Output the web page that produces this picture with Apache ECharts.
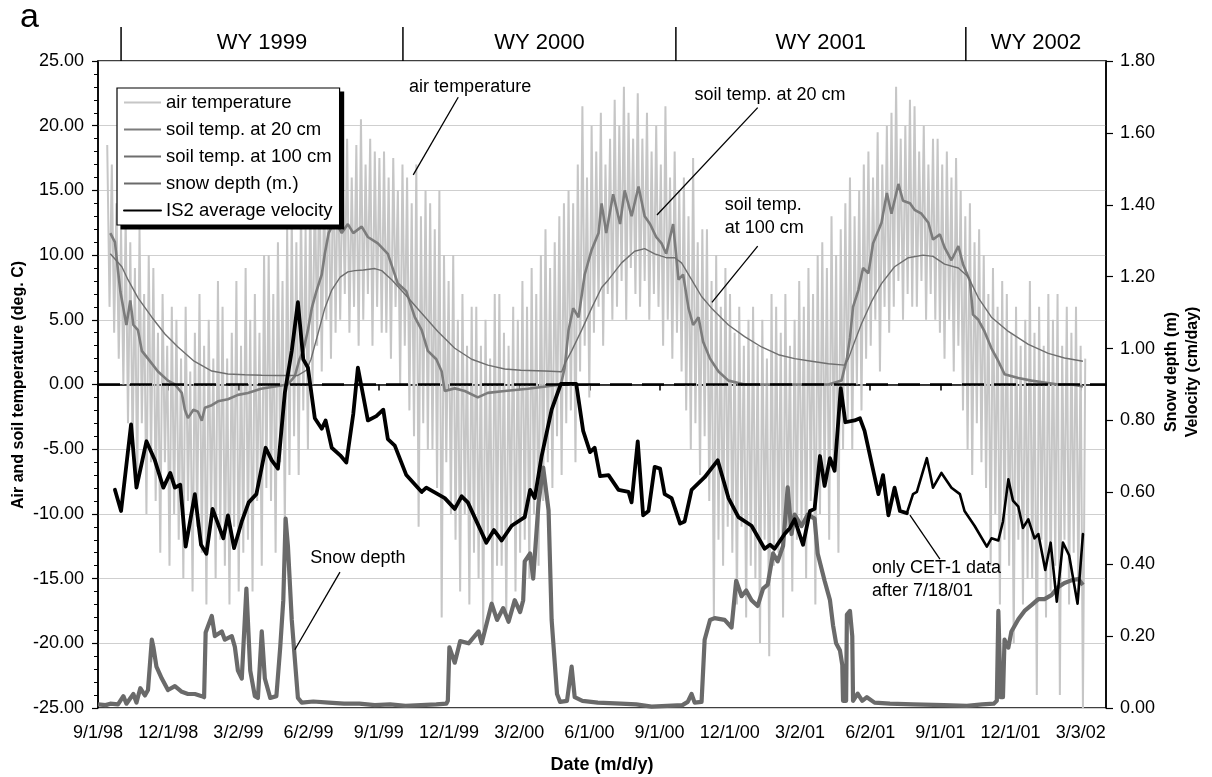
<!DOCTYPE html>
<html>
<head>
<meta charset="utf-8">
<script src="https://cdn.jsdelivr.net/npm/echarts@6/dist/echarts.min.js"></script>
<style>
html, body { margin: 0; padding: 0; background: #fff; }
#chart { width: 1212px; height: 777px; }
</style>
</head>
<body>
<div id="chart"></div>
<script>
// All x values are days counted from 1 Sep 1998 (day 0).
const xTickStep = 91.3;
const xTickLabels = ['9/1/98', '12/1/98', '3/2/99', '6/2/99', '9/1/99', '12/1/99', '3/2/00',
  '6/1/00', '9/1/00', '12/1/00', '3/2/01', '6/2/01', '9/1/01', '12/1/01', '3/3/02'];

// Water-year boundaries (day) and their labels
const wyBounds = [30, 396.6, 751.6, 1128.7];
const wyLabels = ['WY 1999', 'WY 2000', 'WY 2001', 'WY 2002'];

// Air temperature (deg C), sampled every 3 days from day 12
const airStartDay = 12;
const airStepDays = 3;
const airTemp = [
  18.5, 6, 17, 4, 14, 2, 12, 0, 13, -3,
  11, -5, 9, -8, 12, -3, 7, -10, 10, -6,
  9, -9, 4, -13, 7, -6, 3, -14, 6, -10,
  5, -12, 2, -15, 6, -9, 1, -16, 4, -11,
  7, -13, 3, -17, 5, -10, 2, -15, 8, -12,
  6, -14, 2, -17, 4, -11, 8, -16, 3, -13,
  9, -12, 5, -16, 7, -9, 4, -14, 10, -8,
  10, -9, 7, -13, 11, -6, 8, -11, 12, -7,
  13, -4, 11, -7, 14, -2, 12, -5, 15, 0,
  16, 3, 18, 1, 15, 5, 17, 2, 19, 4,
  18, 5, 17, 7, 19, 4, 16, 6, 18.5, 3,
  20.5, 5, 17, 7, 19, 3, 18, 6, 17.5, 4,
  18, 4, 16, 2, 17.5, 6, 15, 0, 17, 3,
  16, -2, 14, -4, 17, -11, 13, -3, 15, -5,
  14, -5, 12, -8, 15, -18, 10, -6, 8, -10,
  10, -12, 5, -16, 7, -10, 3, -17, 6, -13,
  6, -15, 3, -19, 5, -12, 2, -17, 7, -14,
  7, -14, 4, -18, 3, -11, 6, -16, 5, -13,
  8, -12, 6, -15, 9, -10, 7, -14, 10, -9,
  12, -6, 9, -8, 11, -4, 13, -7, 14, -3,
  15, -2, 14, -6, 17, 1, 21.5, 3, 16, -1,
  20, 4, 18, 6, 21, 3, 17, 7, 19, 5,
  22, 6, 20, 8, 23, 5, 21, 9, 19, 7,
  22.5, 6, 19, 8, 21, 5, 18, 7, 20, 6,
  17, 3, 21.5, 5, 16, 2, 18, 4, 15, 1,
  16, -2, 13, -5, 17.5, -3, 11, -7, 12, -4,
  12, -9, 8, -18, 10, -12, 6, -14, 9, -11,
  7, -13, 4, -17, 6, -11, 3, -18, 5, -14,
  6, -15, 3, -20, 5, -12, 2, -21, 7, -14,
  6, -13, 4, -18, 7, -11, 3, -16, 5, -12,
  8, -11, 6, -15, 9, -9, 7, -17, 10, -10,
  11, -8, 9, -12, 13, -6, 10, -13, 12, -5,
  14, -3, 16, -5, 13, 0, 15, -2, 17, 2,
  18, 3, 16, 5, 19.5, 1, 17, 6, 20, 4,
  21, 6, 23, 8, 19, 5, 20, 7, 22, 6,
  21.5, 6, 18, 8, 20, 5, 17, 7, 19, 5,
  19, 4, 17, 2, 18, 5, 16, 1, 17.5, 3,
  15, -2, 13, -5, 14, -7, 11, -3, 12, -6,
  10, -8, 7, -14, 9, -10, 6, -17, 8, -12,
  7, -14, 4, -20, 6, -12, 3, -17, 5, -15,
  8, -15, 4, -24, 6, -12, 3, -18, 7, -16,
  5, -14, 7, -24, 3, -12, 6, -17, 4, -13,
  6, -16, 3, -25, 2
];

// Soil temperature at 20 cm: [day, deg C]
const soil20 = [
  [16, 11.7], [22, 11.0], [29, 7.2], [33, 5.9], [37, 4.6], [42, 6.5], [46, 4.6], [52, 4.2],
  [57, 2.6], [65, 2.0], [78, 1.0], [91, 0.3], [100, 0], [109, -0.65], [113, -1.95], [117, -2.6],
  [124, -1.95], [130, -2.1], [135, -2.8], [139, -1.8], [148, -1.6], [156, -1.3], [169, -1.14],
  [182, -0.8], [195, -0.65], [212, -0.33], [230, -0.16], [247, 0], [256, 0.65], [262, 1.95],
  [267, 2.6], [273, 4.2], [278, 5.9], [284, 7.2], [291, 8.5], [295, 10.1], [300, 11.7],
  [308, 12.7], [317, 11.7], [325, 12.4], [332, 11.7], [343, 12.2], [351, 11.4], [364, 10.9],
  [377, 10.1], [390, 7.8], [401, 7.2], [412, 5.2], [421, 4.2], [429, 2.6], [440, 1.95],
  [447, 1.0], [451, -0.5], [464, -0.3], [477, -0.5], [494, -1.0], [507, -0.65], [529, -0.5],
  [559, -0.33], [590, -0.1], [602, 0], [607, 1.3], [612, 4.2], [618, 5.9], [625, 5.2],
  [633, 8.5], [642, 10.4], [651, 11.7], [655, 14.0], [661, 11.7], [670, 14.7], [679, 12.4],
  [685, 15.0], [694, 13.0], [703, 15.3], [711, 13.0], [718, 12.4], [726, 11.4], [733, 10.9],
  [739, 10.1], [748, 12.4], [755, 8.1], [761, 8.5], [768, 5.9], [774, 4.6], [781, 5.2],
  [787, 3.3], [796, 2.0], [807, 1.0], [820, 0.3], [841, 0], [863, 0], [906, 0], [950, 0],
  [967, 0.3], [974, 2.0], [978, 3.6], [982, 6.0], [989, 7.3], [995, 9.0], [1002, 8.6],
  [1008, 10.9], [1015, 11.9], [1019, 12.5], [1026, 14.8], [1032, 13.2], [1041, 15.5],
  [1047, 14.2], [1056, 14.0], [1062, 13.5], [1071, 13.2], [1080, 12.5], [1086, 11.2],
  [1095, 11.6], [1101, 10.6], [1110, 9.6], [1119, 10.7], [1125, 9.3], [1134, 8.0],
  [1138, 5.4], [1145, 5.0], [1153, 4.1], [1162, 2.8], [1171, 1.8], [1179, 0.8], [1197, 0.5],
  [1214, 0.3], [1231, 0.16], [1249, 0], [1266, 0], [1281, -0.16]
];

// Soil temperature at 100 cm: [day, deg C]
const soil100 = [
  [16, 10.1], [31, 9.1], [39, 8.1], [52, 6.7], [70, 5.2], [87, 3.9], [104, 2.9], [125, 1.8],
  [148, 1.04], [169, 0.81], [191, 0.75], [213, 0.72], [234, 0.70], [260, 0.70], [271, 1.1],
  [277, 1.95], [286, 3.9], [295, 5.9], [304, 7.3], [315, 8.3], [325, 8.7], [334, 8.8],
  [345, 8.85], [360, 8.96], [369, 8.8], [382, 8.1], [399, 7.0], [421, 5.5], [442, 4.1],
  [464, 2.8], [486, 1.95], [507, 1.5], [529, 1.2], [550, 1.1], [581, 1.04], [603, 0.98],
  [607, 1.6], [616, 2.6], [629, 4.2], [642, 5.9], [655, 7.5], [664, 8.1], [681, 9.4],
  [698, 10.3], [711, 10.5], [724, 10.1], [739, 9.8], [750, 9.8], [759, 9.4], [772, 8.1],
  [785, 6.8], [798, 5.9], [820, 4.6], [841, 3.7], [863, 2.9], [885, 2.3], [906, 2.0],
  [928, 1.8], [950, 1.6], [971, 1.5], [976, 2.0], [984, 3.3], [993, 4.7], [1006, 6.4],
  [1019, 7.8], [1036, 9.1], [1054, 9.8], [1073, 10.0], [1086, 9.9], [1101, 9.3], [1119, 9.0],
  [1132, 8.3], [1145, 6.7], [1162, 5.2], [1184, 4.1], [1210, 3.1], [1236, 2.4], [1257, 2.05],
  [1281, 1.8]
];

// Snow depth (m): [day, m]
const snowDepth = [
  [0, 0.01], [10, 0.008], [16, 0.012], [26, 0.01], [33, 0.033], [37, 0.012], [46, 0.039],
  [50, 0.015], [55, 0.055], [61, 0.035], [65, 0.05], [70, 0.19], [72, 0.17], [76, 0.115],
  [83, 0.082], [91, 0.05], [100, 0.061], [109, 0.045], [117, 0.039], [126, 0.039], [135, 0.033],
  [138, 0.03], [140, 0.21], [148, 0.256], [152, 0.20], [161, 0.213], [165, 0.19], [174, 0.20],
  [178, 0.17], [182, 0.104], [187, 0.082], [193, 0.332], [198, 0.104], [204, 0.033], [208, 0.028],
  [213, 0.213], [217, 0.082], [224, 0.028], [232, 0.033], [237, 0.169], [241, 0.30], [244, 0.527],
  [247, 0.451], [252, 0.245], [256, 0.136], [260, 0.028], [265, 0.015], [280, 0.018], [300, 0.015],
  [320, 0.012], [340, 0.012], [360, 0.008], [380, 0.01], [400, 0.006], [420, 0.008], [440, 0.01],
  [453, 0.012], [455, 0.02], [457, 0.169], [464, 0.126], [471, 0.186], [482, 0.18], [495, 0.213],
  [499, 0.18], [512, 0.29], [519, 0.245], [527, 0.278], [534, 0.24], [542, 0.30], [549, 0.267],
  [553, 0.30], [555, 0.408], [562, 0.43], [566, 0.36], [573, 0.571], [579, 0.669], [586, 0.55],
  [590, 0.245], [597, 0.039], [601, 0.017], [610, 0.02], [616, 0.115], [620, 0.03], [630, 0.02],
  [650, 0.015], [680, 0.012], [700, 0.01], [720, 0.004], [740, 0.006], [760, 0.008], [767, 0.017],
  [772, 0.039], [776, 0.015], [785, 0.017], [789, 0.19], [796, 0.245], [802, 0.25], [815, 0.245],
  [824, 0.224], [830, 0.354], [837, 0.311], [843, 0.327], [850, 0.30], [858, 0.284], [865, 0.332],
  [871, 0.343], [878, 0.43], [884, 0.408], [891, 0.451], [897, 0.614], [902, 0.484], [906, 0.538],
  [915, 0.506], [923, 0.538], [932, 0.527], [936, 0.43], [945, 0.354], [952, 0.30], [956, 0.23],
  [960, 0.18], [965, 0.16], [968, 0.12], [969, 0.02], [973, 0.02], [974, 0.26], [978, 0.27],
  [981, 0.2], [982, 0.02], [988, 0.04], [994, 0.02], [1000, 0.03], [1010, 0.015], [1030, 0.012],
  [1060, 0.01], [1100, 0.008], [1130, 0.006], [1150, 0.01], [1165, 0.012], [1169, 0.02],
  [1171, 0.27], [1174, 0.03], [1177, 0.03], [1179, 0.19], [1184, 0.168], [1188, 0.213],
  [1197, 0.247], [1205, 0.27], [1214, 0.286], [1223, 0.303], [1231, 0.303], [1240, 0.314],
  [1249, 0.337], [1257, 0.348], [1266, 0.355], [1275, 0.359], [1281, 0.342]
];

// IS2 average velocity (cm/day): [day, cm/day]
const velocity = [
  [22, 0.607], [30, 0.548], [43, 0.789], [50, 0.613], [63, 0.742], [74, 0.689], [85, 0.613],
  [94, 0.654], [100, 0.613], [107, 0.621], [114, 0.449], [126, 0.595], [134, 0.454], [141, 0.429],
  [149, 0.554], [163, 0.472], [169, 0.536], [177, 0.445], [187, 0.519], [196, 0.572], [206, 0.595],
  [218, 0.724], [226, 0.689], [234, 0.666], [243, 0.877], [252, 0.994], [260, 1.129], [267, 0.970],
  [273, 0.947], [282, 0.806], [291, 0.777], [296, 0.800], [304, 0.724], [315, 0.703], [323, 0.683],
  [332, 0.818], [338, 0.947], [351, 0.800], [362, 0.812], [371, 0.830], [377, 0.748], [386, 0.730],
  [401, 0.648], [421, 0.601], [427, 0.613], [451, 0.584], [464, 0.554], [473, 0.589], [481, 0.572],
  [505, 0.460], [515, 0.495], [525, 0.466], [538, 0.507], [555, 0.531], [562, 0.607], [568, 0.584],
  [577, 0.701], [590, 0.830], [602, 0.902], [622, 0.902], [631, 0.771], [640, 0.712], [646, 0.724],
  [653, 0.645], [664, 0.648], [677, 0.607], [690, 0.601], [694, 0.572], [702, 0.742], [709, 0.536],
  [716, 0.548], [724, 0.671], [731, 0.666], [737, 0.595], [746, 0.584], [757, 0.513], [763, 0.519],
  [772, 0.607], [789, 0.642], [806, 0.689], [820, 0.584], [833, 0.531], [850, 0.507], [867, 0.443],
  [874, 0.454], [880, 0.443], [893, 0.484], [900, 0.501], [906, 0.525], [917, 0.454], [926, 0.548],
  [932, 0.554], [939, 0.701], [945, 0.618], [952, 0.695], [958, 0.660], [966, 0.890], [972, 0.795],
  [984, 0.800], [991, 0.806], [997, 0.771], [1015, 0.595], [1021, 0.648], [1028, 0.536],
  [1036, 0.613], [1043, 0.548], [1052, 0.542], [1060, 0.595], [1065, 0.601], [1078, 0.695],
  [1086, 0.613], [1097, 0.654], [1110, 0.613], [1121, 0.595], [1127, 0.548], [1140, 0.507],
  [1156, 0.449], [1162, 0.472], [1171, 0.466], [1177, 0.519], [1184, 0.636], [1190, 0.577],
  [1197, 0.560], [1203, 0.501], [1210, 0.525], [1218, 0.472], [1223, 0.484], [1232, 0.384],
  [1239, 0.460], [1247, 0.296], [1255, 0.460], [1263, 0.425], [1274, 0.290], [1281, 0.484]
];
// From 7/18/01 on only the CET-1 record is averaged
const cet1OnlyFromDay = 1052;

const FONT = '"Liberation Sans", Arial, Helvetica, sans-serif';
const xMax = 1311;

const airData = airTemp.map((t, i) => [airStartDay + i * airStepDays, t]);
const velEarly = velocity.filter(p => p[0] <= cet1OnlyFromDay);
const velLate = velocity.filter(p => p[0] >= cet1OnlyFromDay);

const chart = echarts.init(document.getElementById('chart'));

const axisLineStyle = { color: '#000', width: 1.5 };
const labelStyle = { fontSize: 18, color: '#000', fontFamily: FONT };

chart.setOption({
  animation: false,
  backgroundColor: '#fff',
  textStyle: { fontFamily: FONT },
  grid: { left: 98, right: 106, top: 61, bottom: 69, show: true, borderColor: '#000', borderWidth: 1.5 },
  legend: {
    orient: 'vertical',
    left: 117, top: 88,
    z: 20,
    selectedMode: false,
    data: ['air temperature', 'soil temp. at 20 cm', 'soil temp. at 100 cm', 'snow depth (m.)', 'IS2 average velocity'],
    backgroundColor: '#fff',
    borderColor: '#000',
    borderWidth: 1.2,
    padding: [5, 7, 5, 6],
    itemGap: 8,
    itemWidth: 37,
    itemHeight: 14,
    itemStyle: { opacity: 0 },
    textStyle: { fontSize: 18.5, color: '#000', fontFamily: FONT }
  },
  xAxis: {
    type: 'value', min: 0, max: xMax, interval: xTickStep,
    axisLine: { show: true, lineStyle: axisLineStyle },
    axisTick: { show: true, length: 6, lineStyle: { color: '#000', width: 1.5 } },
    axisLabel: Object.assign({
      margin: 16,
      showMaxLabel: false,
      formatter: function (v) {
        const k = Math.round(v / xTickStep);
        if (Math.abs(v - k * xTickStep) > 0.01) return '';
        return xTickLabels[k] || '';
      }
    }, labelStyle),
    splitLine: { show: false }
  },
  yAxis: [
    {
      type: 'value', min: -25, max: 25, interval: 5, position: 'left',
      axisLine: { show: true, lineStyle: axisLineStyle },
      axisTick: { show: true, length: 6, lineStyle: { color: '#000', width: 1.2 } },
      minorTick: { show: true, splitNumber: 5, length: 4, lineStyle: { color: '#000', width: 1 } },
      axisLabel: Object.assign({ margin: 14, formatter: v => v.toFixed(2) }, labelStyle),
      splitLine: { show: true, lineStyle: { color: '#cfcfcf', width: 1 } }
    },
    {
      type: 'value', min: 0, max: 1.8, interval: 0.2, position: 'right',
      axisLine: { show: true, lineStyle: axisLineStyle },
      axisTick: { show: true, length: 7, lineStyle: { color: '#000', width: 1.2 } },
      axisLabel: Object.assign({ margin: 14, formatter: v => v.toFixed(2) }, labelStyle),
      splitLine: { show: false }
    }
  ],
  series: [
    {
      name: 'air temperature', type: 'line', yAxisIndex: 0, z: 1, silent: true,
      symbol: 'none', data: airData,
      lineStyle: { color: '#c6c6c6', width: 2 }, itemStyle: { color: '#c6c6c6' }
    },
    {
      name: 'soil temp. at 20 cm', type: 'line', yAxisIndex: 0, z: 2, silent: true,
      symbol: 'none', data: soil20,
      lineStyle: { color: '#7c7c7c', width: 2.6 }, itemStyle: { color: '#7c7c7c' }
    },
    {
      name: 'soil temp. at 100 cm', type: 'line', yAxisIndex: 0, z: 3, silent: true,
      symbol: 'none', data: soil100,
      lineStyle: { color: '#6e6e6e', width: 1.4 }, itemStyle: { color: '#6e6e6e' },
      markLine: {
        silent: true, animation: false,
        symbol: ['none', 'none'],
        label: { show: false },
        lineStyle: { color: '#000', width: 2.6, type: [22, 10] },
        data: [{ yAxis: 0 }]
      }
    },
    {
      name: 'snow depth (m.)', type: 'line', yAxisIndex: 1, z: 4, silent: true,
      symbol: 'none', data: snowDepth,
      lineStyle: { color: '#6a6a6a', width: 4.2, join: 'round' }, itemStyle: { color: '#6a6a6a' }
    },
    {
      name: 'IS2 average velocity', type: 'line', yAxisIndex: 1, z: 5, silent: true,
      symbol: 'none', data: velEarly,
      lineStyle: { color: '#000', width: 3.8, join: 'round', cap: 'round' }, itemStyle: { color: '#000' }
    },
    {
      name: 'IS2 average velocity', type: 'line', yAxisIndex: 1, z: 5, silent: true,
      symbol: 'none', data: velLate,
      lineStyle: { color: '#000', width: 2.6, join: 'round', cap: 'round' }, itemStyle: { color: '#000' }
    }
  ]
});

// Decorations placed from axis coordinates
const toPx = (d, t) => chart.convertToPixel({ xAxisIndex: 0, yAxisIndex: 0 }, [d, t]);
const xPx = d => chart.convertToPixel({ xAxisIndex: 0 }, d);
const plotTop = 61;

const graphics = [];

// solid drop shadow under the legend box
let lgBox = { x: 117, y: 88, width: 223, height: 138 };
try {
  const lgModel = chart.getModel().getComponent('legend');
  const lgView = chart.getViewOfComponentModel(lgModel);
  const r = lgView.group.getBoundingRect();
  lgBox = { x: r.x + lgView.group.x, y: r.y + lgView.group.y, width: r.width, height: r.height };
} catch (e) { /* keep default box */ }
graphics.push({ type: 'rect', z: 19, silent: true,
  shape: { x: lgBox.x + 4, y: lgBox.y + 4, width: lgBox.width, height: lgBox.height },
  style: { fill: '#000' } });

// panel letter
graphics.push({ type: 'text', x: 20, y: 18, z: 50,
  style: { text: 'a', font: '34px ' + FONT, fill: '#000', textAlign: 'left', textVerticalAlign: 'middle' } });

// water-year band above the plot
const edges = wyBounds.map(xPx).concat([xPx(xMax)]);
wyBounds.forEach((d, i) => {
  graphics.push({ type: 'line', z: 50,
    shape: { x1: edges[i], y1: 27, x2: edges[i], y2: plotTop },
    style: { stroke: '#000', lineWidth: 1.5 } });
  graphics.push({ type: 'text', z: 50, x: (edges[i] + edges[i + 1]) / 2, y: 43,
    style: { text: wyLabels[i], font: '22px ' + FONT, fill: '#000', textAlign: 'center', textVerticalAlign: 'middle' } });
});

// axis titles
graphics.push({ type: 'text', z: 50, x: 19, y: 385, rotation: Math.PI / 2,
  style: { text: 'Air and soil temperature (deg. C)', font: 'bold 16px ' + FONT, fill: '#000', textAlign: 'center', textVerticalAlign: 'middle' } });
graphics.push({ type: 'text', z: 50, x: 1172, y: 372, rotation: Math.PI / 2,
  style: { text: 'Snow depth (m)', font: 'bold 16px ' + FONT, fill: '#000', textAlign: 'center', textVerticalAlign: 'middle' } });
graphics.push({ type: 'text', z: 50, x: 1193, y: 372, rotation: Math.PI / 2,
  style: { text: 'Velocity (cm/day)', font: 'bold 16px ' + FONT, fill: '#000', textAlign: 'center', textVerticalAlign: 'middle' } });
graphics.push({ type: 'text', z: 50, x: (xPx(0) + xPx(xMax)) / 2, y: 765,
  style: { text: 'Date (m/d/y)', font: 'bold 18px ' + FONT, fill: '#000', textAlign: 'center', textVerticalAlign: 'middle' } });

// callouts: text anchor [day, temp], alignment, leader line from/to [day, temp]
const callouts = [
  { lines: ['air temperature'], at: [484, 23.0], align: 'center', from: [468.5, 22.2], to: [410, 16.2] },
  { lines: ['soil temp. at 20 cm'], at: [874, 22.4], align: 'center', from: [858, 21.4], to: [727, 13.1] },
  { lines: ['soil temp.', 'at 100 cm'], at: [815, 13.9], align: 'left', from: [858, 10.7], to: [798.5, 6.35] },
  { lines: ['Snow depth'], at: [338, -13.4], align: 'center', from: [314.7, -14.5], to: [256, -20.5] },
  { lines: ['only CET-1 data', 'after 7/18/01'], at: [1006.5, -14.2], align: 'left', from: [1056, -10.1], to: [1095, -13.5] }
];
callouts.forEach(c => {
  const p = toPx(c.at[0], c.at[1]);
  c.lines.forEach((txt, j) => {
    graphics.push({ type: 'text', z: 50, x: p[0], y: p[1] + j * 23,
      style: { text: txt, font: '18px ' + FONT, fill: '#000', textAlign: c.align, textVerticalAlign: 'middle' } });
  });
  const a = toPx(c.from[0], c.from[1]);
  const b = toPx(c.to[0], c.to[1]);
  graphics.push({ type: 'line', z: 50, shape: { x1: a[0], y1: a[1], x2: b[0], y2: b[1] },
    style: { stroke: '#000', lineWidth: 1.3 } });
});

chart.setOption({ graphic: graphics });
</script>
</body>
</html>
